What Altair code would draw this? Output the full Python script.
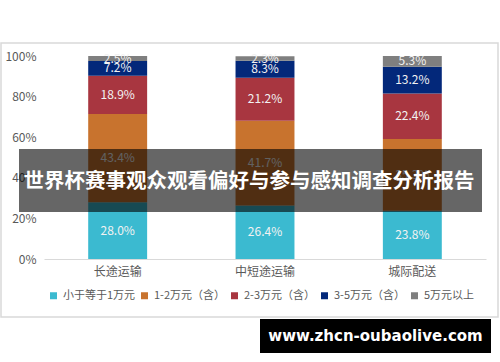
import altair as alt
import pandas as pd

categories = ["长途运输", "中短途运输", "城际配送"]
series = ["小于等于1万元", "1-2万元（含）", "2-3万元（含）", "3-5万元（含）", "5万元以上"]
s_le1 = [28.0, 26.4, 23.8]
s_1_2 = [43.4, 41.7, 35.3]
s_2_3 = [18.9, 21.2, 22.4]
s_3_5 = [7.2, 8.3, 13.2]
s_gt5 = [2.5, 2.3, 5.3]
colors = ["#3BBAD0", "#C8732E", "#A83640", "#03287A", "#7F7F7F"]
y_ticks = [0, 20, 40, 60, 80, 100]
title_text = "世界杯赛事观众观看偏好与参与感知调查分析报告"
watermark = "www.zhcn-oubaolive.com"

rows = []
for si, (name, vals) in enumerate(zip(series, [s_le1, s_1_2, s_2_3, s_3_5, s_gt5])):
    for c, v in zip(categories, vals):
        rows.append({"cat": c, "series": name, "order": si, "value": v})
df = pd.DataFrame(rows)

FONT = "Noto Sans CJK SC"

base = alt.Chart(df).transform_stack(
    stack="value", groupby=["cat"], as_=["y0", "y1"],
    sort=[alt.SortField("order", order="ascending")]
).transform_calculate(mid="(datum.y0 + datum.y1) / 2",
                      lbl="format(datum.value, '.1f') + '%'")

x_enc = alt.X("cat:N", sort=categories, title=None,
              scale=alt.Scale(paddingInner=0.6, paddingOuter=0.3),
              axis=alt.Axis(labelAngle=0, ticks=False, domainColor="#d9d9d9",
                            labelColor="#595959", labelFontSize=12, labelFont=FONT,
                            labelPadding=7))

bars = base.mark_bar().encode(
    x=x_enc,
    y=alt.Y("y0:Q", title=None, scale=alt.Scale(domain=[0, 100], nice=False),
            axis=alt.Axis(values=y_ticks, labelExpr="datum.value + '%'", domain=False,
                          ticks=False, grid=False, labelColor="#595959",
                          labelFontSize=12, labelFont=FONT, labelPadding=8)),
    y2="y1:Q",
    color=alt.Color("series:N", sort=series, scale=alt.Scale(domain=series, range=colors),
                    legend=alt.Legend(title=None, orient="none", legendX=4, legendY=234,
                                      direction="horizontal", symbolType="square",
                                      symbolSize=49, symbolStrokeWidth=0,
                                      labelFontSize=11, labelFont=FONT, labelColor="#595959",
                                      labelOffset=4, columnPadding=3)),
    order=alt.Order("order:Q"),
)

labels = base.mark_text(color="#f2f2f2", fontSize=12, font=FONT).encode(
    x=alt.X("cat:N", sort=categories),
    y=alt.Y("mid:Q"),
    text="lbl:N",
)

one = pd.DataFrame({"t": [title_text], "w": [watermark]})

banner = alt.Chart(one).mark_rect(color="black", opacity=0.6).encode(
    x=alt.value(-25), x2=alt.value(438), y=alt.value(93), y2=alt.value(156))
banner_text = alt.Chart(one).mark_text(color="white", fontSize=20.5, fontWeight="bold",
                                       font=FONT, baseline="middle").encode(
    x=alt.value(205), y=alt.value(126), text="t:N")

frame = alt.Chart(one).mark_rect(filled=False, stroke="#d9d9d9", strokeWidth=1.5).encode(
    x=alt.value(-43), x2=alt.value(454), y=alt.value(-13), y2=alt.value(261))

wm_rect = alt.Chart(one).mark_rect(color="black").encode(
    x=alt.value(216), x2=alt.value(447), y=alt.value(263), y2=alt.value(297))
wm_text = alt.Chart(one).mark_text(color="white", fontSize=15, fontWeight="bold",
                                   font="DejaVu Sans", baseline="middle").encode(
    x=alt.value(331.5), y=alt.value(280), text="w:N")

chart = alt.layer(bars, labels, banner, banner_text, frame, wm_rect, wm_text).properties(
    width=442, height=203,
    autosize=alt.AutoSizeParams(type="none"),
    padding={"left": 44, "top": 56, "right": 14, "bottom": 103},
    background="white",
).configure_view(stroke=None)

chart.save("out.html", embed_options={"renderer": "svg", "actions": False})
